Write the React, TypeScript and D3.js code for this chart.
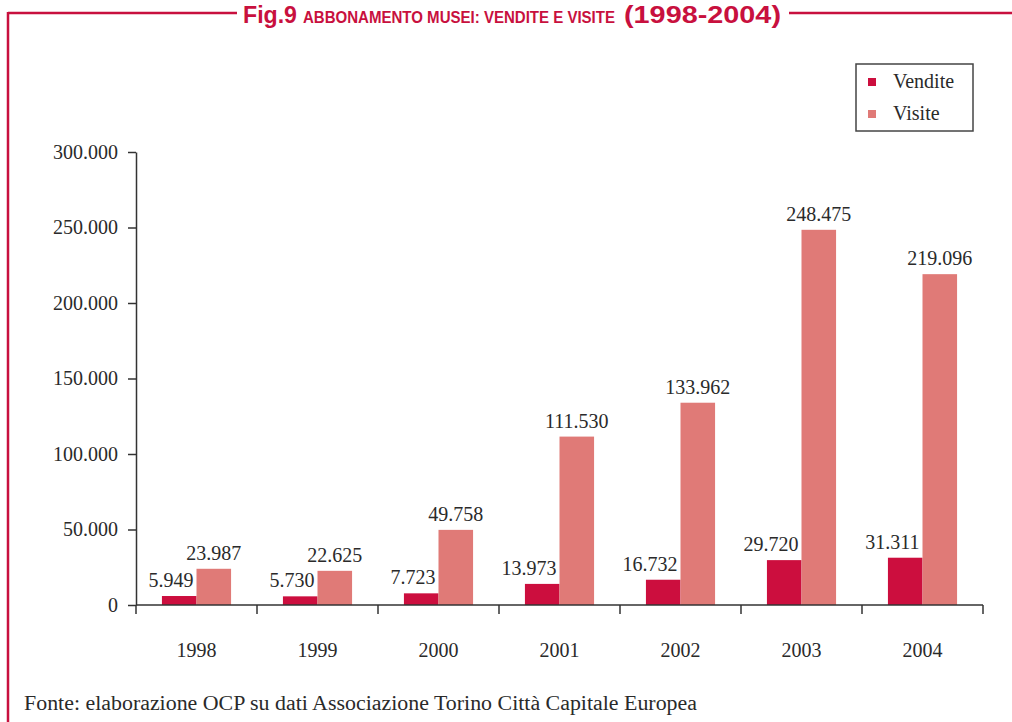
import React, { useRef, useEffect } from "react";
import * as d3 from "d3";

const years = ["1998", "1999", "2000", "2001", "2002", "2003", "2004"];
const vendite = [5949, 5730, 7723, 13973, 16732, 29720, 31311];
const visite = [23987, 22625, 49758, 111530, 133962, 248475, 219096];
const seriesNames = ["Vendite", "Visite"];
const yTicks = [0, 50000, 100000, 150000, 200000, 250000, 300000];

const colors: Record<string, string> = { Vendite: "#cc0e3e", Visite: "#e07a77" };
const red = "#c8103e";
const serif = "'Liberation Serif', 'Times New Roman', serif";
const sans = "'Liberation Sans Narrow', 'Liberation Sans', Arial, sans-serif";

const width = 1012;
const height = 722;
const margin = { top: 152, right: 29, bottom: 117, left: 136 };

const itLocale = d3.formatLocale({ decimal: ",", thousands: ".", grouping: [3], currency: ["", "€"] });
const fmt = itLocale.format(",");

const yScale = d3.scaleLinear().domain([0, 300000]).range([height - margin.bottom, margin.top]);
const xScale = d3.scaleBand().domain(years).range([margin.left, width - margin.right]).padding(0);
const subScale = d3.scaleBand().domain(seriesNames).range([0, xScale.bandwidth()]).paddingInner(0).paddingOuter(0.75);

export default function App() {
  const svgRef = useRef<SVGSVGElement>(null);

  useEffect(() => {
    if (!svgRef.current) return;
    const svg = d3.select(svgRef.current);
    svg.selectAll(".axis").remove();

    const yAxis = svg.append("g").attr("class", "axis")
      .attr("transform", `translate(${margin.left},0)`)
      .call(d3.axisLeft(yScale).tickValues(yTicks).tickFormat((d: any) => fmt(d)).tickSize(8).tickSizeOuter(0).tickPadding(10));
    yAxis.selectAll("path, line").attr("stroke", "#333").attr("stroke-width", 1.5);
    yAxis.selectAll("text").attr("font-family", serif).attr("font-size", 20).attr("fill", "#2a2a2a");

    const base = yScale(0);
    const xAxis = svg.append("g").attr("class", "axis");
    xAxis.append("line")
      .attr("x1", margin.left).attr("x2", width - margin.right)
      .attr("y1", base).attr("y2", base)
      .attr("stroke", "#333").attr("stroke-width", 1.5);
    const bounds = years.map((y) => xScale(y) as number).concat([width - margin.right]);
    xAxis.selectAll("line.tick").data(bounds).enter().append("line")
      .attr("class", "tick")
      .attr("x1", (d) => d).attr("x2", (d) => d)
      .attr("y1", base).attr("y2", base + 9)
      .attr("stroke", "#333").attr("stroke-width", 1.5);
    xAxis.selectAll("text").data(years).enter().append("text")
      .attr("x", (d) => (xScale(d) as number) + xScale.bandwidth() / 2)
      .attr("y", base + 52)
      .attr("text-anchor", "middle")
      .attr("font-family", serif).attr("font-size", 20).attr("fill", "#2a2a2a")
      .text((d) => d);
  }, []);

  const rows = years.map((y, i) => ({ year: y, Vendite: vendite[i], Visite: visite[i] }));

  return (
    <svg ref={svgRef} width={width} height={height} style={{ position: "absolute", left: 0, top: 0, background: "#fff" }}>
      {/* frame */}
      <line x1={8} y1={13} x2={237} y2={13} stroke={red} strokeWidth={2.5} />
      <line x1={789} y1={13} x2={width} y2={13} stroke={red} strokeWidth={2.5} />
      <line x1={8} y1={12} x2={8} y2={height} stroke={red} strokeWidth={2.5} />

      {/* title */}
      <text x={243} y={23} fontFamily={sans} fontWeight="bold" fontSize={24} fill={red} textLength={54} lengthAdjust="spacingAndGlyphs">Fig.9</text>
      <text x={303} y={23} fontFamily={sans} fontWeight="bold" fontSize={16} fill={red} textLength={312} lengthAdjust="spacingAndGlyphs">ABBONAMENTO MUSEI: VENDITE E VISITE</text>
      <text x={624} y={23} fontFamily={sans} fontWeight="bold" fontSize={24} fill={red} textLength={157} lengthAdjust="spacingAndGlyphs">(1998-2004)</text>

      {/* bars */}
      {rows.map((r) => (
        <g key={r.year} transform={`translate(${xScale(r.year)},0)`}>
          {seriesNames.map((s) => {
            const v = (r as any)[s] as number;
            const x = subScale(s) as number;
            const w = subScale.bandwidth();
            const yTop = yScale(v);
            return (
              <g key={s}>
                <rect x={x} y={yTop} width={w} height={yScale(0) - yTop} fill={colors[s]} />
                <text
                  x={s === "Vendite" ? x + w - 3 : x + w / 2}
                  y={yTop - 9}
                  textAnchor={s === "Vendite" ? "end" : "middle"}
                  fontFamily={serif}
                  fontSize={20}
                  fill="#2a2a2a"
                >
                  {fmt(v)}
                </text>
              </g>
            );
          })}
        </g>
      ))}

      {/* legend */}
      <rect x={856} y={64} width={117} height={67} fill="#fff" stroke="#444" strokeWidth={1.5} />
      {seriesNames.map((s, i) => (
        <g key={s} transform={`translate(868,${78 + i * 32})`}>
          <rect x={0} y={0} width={8} height={8} fill={colors[s]} />
          <text x={25} y={10} fontFamily={serif} fontSize={20} fill="#2a2a2a">{s}</text>
        </g>
      ))}

      {/* source */}
      <text x={24} y={710} fontFamily={serif} fontSize={20} fill="#2a2a2a" textLength={673} lengthAdjust="spacingAndGlyphs">
        Fonte: elaborazione OCP su dati Associazione Torino Città Capitale Europea
      </text>
    </svg>
  );
}
